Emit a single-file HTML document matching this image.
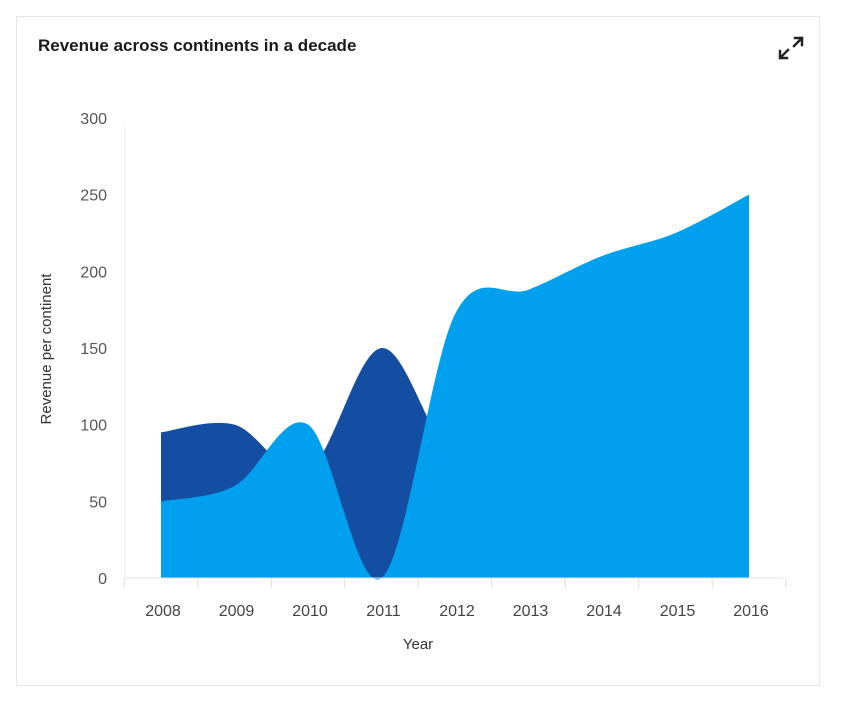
<!DOCTYPE html>
<html><head><meta charset="utf-8"><style>
body{margin:0;background:#fff;font-family:"Liberation Sans",sans-serif;}
#card{position:absolute;left:16px;top:16px;width:802px;height:668px;border:1px solid #e6e6e6;background:#fff;}
</style></head><body>
<div id="card"></div>
<svg id="svg" width="844" height="706" style="position:absolute;left:0;top:0">
<text x="38" y="51" font-size="17" font-weight="bold" fill="#1a1a1a">Revenue across continents in a decade</text>
<g stroke="#222" stroke-width="2.4" fill="none" stroke-linecap="square">
<path d="M794 46 L802 38 M795 38 L802 38 L802 45 M788 50 L780 58 M780 51 L780 58 L787 58"/>
</g>
<line x1="125" y1="122" x2="125" y2="578" stroke="#f0f0f0"/>
<g id="yt"></g><g id="areas"></g><g id="xt"></g>
<text x="418" y="649" font-size="15" fill="#333" text-anchor="middle">Year</text>
<text transform="translate(51,349) rotate(-90)" font-size="15" fill="#333" text-anchor="middle">Revenue per continent</text>
</svg>
<script>
const years=["2008","2009","2010","2011","2012","2013","2014","2015","2016"];
const yTicks=[0,50,100,150,200,250,300];
const seriesDark=[95,100,70,150,80,120,140,160,180];
const seriesLight=[50,60,100,0,172,188,210,225,250];
const NS="http://www.w3.org/2000/svg";
const xs=i=>161+i*73.5, ys=v=>578-v*(460/300);
function mk(t,a,p){const e=document.createElementNS(NS,t);for(const k in a)e.setAttribute(k,a[k]);p.appendChild(e);return e;}
const yt=document.getElementById('yt'),xt=document.getElementById('xt'),ar=document.getElementById('areas');
yTicks.forEach(v=>{const t=mk('text',{x:107,y:ys(v)+6,'font-size':16,fill:'#555','text-anchor':'end'},yt);t.textContent=v;

});
function path(vals){
 const p=vals.map((v,i)=>[xs(i),ys(v)]);const n=p.length;
 let s=`M${p[0][0]},${ys(0)}L${p[0][0]},${p[0][1]}`;
 for(let i=0;i<n-1;i++){
  const p0=p[Math.max(0,i-1)],p1=p[i],p2=p[i+1],p3=p[Math.min(n-1,i+2)];
  const c1=[p1[0]+(p2[0]-p0[0])/6,p1[1]+(p2[1]-p0[1])/6];
  const c2=[p2[0]-(p3[0]-p1[0])/6,p2[1]-(p3[1]-p1[1])/6];
  s+=`C${c1[0]},${c1[1]} ${c2[0]},${c2[1]} ${p2[0]},${p2[1]}`;}
 return s+`L${p[n-1][0]},${ys(0)}Z`;}
const a1=mk('path',{d:path(seriesDark),fill:'#144ea3'},ar);


const a2=mk('path',{d:path(seriesLight),fill:'#00a0ee'},ar);


mk('line',{x1:125,y1:578,x2:783,y2:578,stroke:'#e0e0e0'},xt);
for(let i=0;i<=9;i++){const l=mk('line',{x1:xs(i)-36.75,y1:578,x2:xs(i)-36.75,y2:588,stroke:'#ddd'},xt);

}
years.forEach((y,i)=>{const t=mk('text',{x:xs(i)+2,y:616,'font-size':16,fill:'#444','text-anchor':'middle'},xt);t.textContent=y;

});
</script>
</body></html>
